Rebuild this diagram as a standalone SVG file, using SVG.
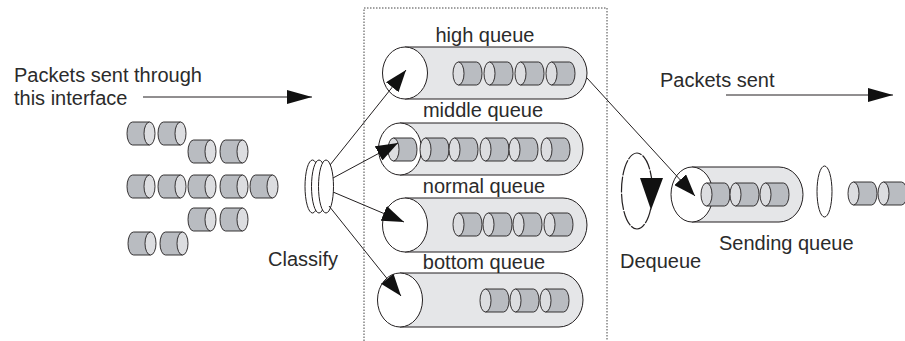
<svg xmlns="http://www.w3.org/2000/svg" width="905" height="341" viewBox="0 0 905 341">
<style>
text{font-family:"Liberation Sans",Arial,sans-serif;font-size:20px;fill:#2b2b2b}
.ln{stroke:#231f20;stroke-width:1;fill:none}
.tube{fill:#e5e6e8;stroke:#231f20;stroke-width:1}
.mouth{fill:#fff;stroke:#231f20;stroke-width:1}
.body{fill:#b9bcc1;stroke:#231f20;stroke-width:0.9}
.face{fill:#dcdde0;stroke:#231f20;stroke-width:0.9}
.disk{fill:#fff;stroke:#231f20;stroke-width:1}
</style>
<defs>
<marker id="ah" markerWidth="22" markerHeight="16" refX="22" refY="8" orient="auto" markerUnits="userSpaceOnUse"><path d="M0,0 L22,8 L0,16 Z" fill="#111"/></marker>
<marker id="ah2" markerWidth="25" markerHeight="14" refX="25" refY="7" orient="auto" markerUnits="userSpaceOnUse"><path d="M0,0 L25,7 L0,14 Z" fill="#111"/></marker>
<g id="pkL"><path class="body" d="M5.5,0 H23.5 A5.5,11.5 0 0 1 23.5,23 H5.5 Z"/><ellipse class="face" cx="5.5" cy="11.5" rx="5.5" ry="11.5"/></g>
<g id="pkR"><path class="body" d="M22.5,0 H5.5 A5.5,11.5 0 0 0 5.5,23 H22.5 Z"/><ellipse class="face" cx="22.5" cy="11.5" rx="5.5" ry="11.5"/></g>
</defs>

<g id="frame"><path d="M364,341 V8 H607 V341" fill="none" stroke="#444" stroke-width="1" stroke-dasharray="1.5 1.5"/></g>

<g id="input-label">
<text x="14" y="82">Packets sent through</text>
<text x="14" y="105">this interface</text>
</g>
<g id="output-label"><text x="660" y="87">Packets sent</text></g>

<g id="incoming-packets">
<use href="#pkR" x="127" y="122"/><use href="#pkR" x="158" y="122"/>
<use href="#pkR" x="188" y="140"/><use href="#pkR" x="220" y="140"/>
<use href="#pkR" x="127" y="175"/><use href="#pkR" x="158" y="175"/><use href="#pkR" x="188" y="175"/><use href="#pkR" x="220" y="175"/><use href="#pkR" x="250" y="175"/>
<use href="#pkR" x="188" y="208"/><use href="#pkR" x="220" y="208"/>
<use href="#pkR" x="128" y="232"/><use href="#pkR" x="160" y="232"/>
</g>

<g id="classify">
<ellipse class="disk" cx="312.5" cy="186.5" rx="7.5" ry="26.5"/>
<ellipse class="disk" cx="319" cy="186.5" rx="7.5" ry="26.5"/>
<ellipse class="disk" cx="326" cy="186.5" rx="7.5" ry="26.5"/>
<text x="268" y="266">Classify</text>
</g>

<g id="high-queue">
<text x="485" y="42" text-anchor="middle">high queue</text>
<path class="tube" d="M405,47 H563 A24,26 0 0 1 563,99 H405 Z"/>
<ellipse class="mouth" cx="405" cy="73" rx="22.5" ry="26"/>
<use href="#pkL" x="453" y="62"/><use href="#pkL" x="484" y="62"/><use href="#pkL" x="515" y="62"/><use href="#pkL" x="546" y="62"/>
</g>

<g id="middle-queue">
<text x="483" y="117" text-anchor="middle">middle queue</text>
<path class="tube" d="M400,123 H559 A24,26 0 0 1 559,175 H400 Z"/>
<ellipse class="mouth" cx="400" cy="149" rx="21.5" ry="26"/>
<use href="#pkL" x="388" y="138"/><use href="#pkL" x="420" y="138"/><use href="#pkL" x="449" y="138"/><use href="#pkL" x="480" y="138"/><use href="#pkL" x="509" y="138"/><use href="#pkL" x="541" y="138"/>
</g>

<g id="normal-queue">
<text x="484" y="193" text-anchor="middle">normal queue</text>
<path class="tube" d="M405,198 H563 A24,27 0 0 1 563,252 H405 Z"/>
<ellipse class="mouth" cx="405" cy="225" rx="22.5" ry="27"/>
<use href="#pkL" x="453" y="213"/><use href="#pkL" x="483" y="213"/><use href="#pkL" x="513" y="213"/><use href="#pkL" x="544" y="213"/>
</g>

<g id="bottom-queue">
<text x="484" y="269" text-anchor="middle">bottom queue</text>
<path class="tube" d="M400,273 H559 A24,27 0 0 1 559,327 H400 Z"/>
<ellipse class="mouth" cx="400" cy="300" rx="22.5" ry="27"/>
<use href="#pkL" x="480" y="289"/><use href="#pkL" x="510" y="289"/><use href="#pkL" x="540" y="289"/>
</g>

<g id="dequeue">
<ellipse cx="637" cy="191" rx="15.5" ry="38" fill="none" stroke="#231f20" stroke-width="1.2" stroke-dasharray="16 1.2"/>
<path d="M640,178 L663,178 L651,210 Z" fill="#111"/>
<text x="620" y="268">Dequeue</text>
</g>

<g id="sending-queue">
<path class="tube" d="M692,167 H779 A24,27.5 0 0 1 779,222 H692 Z"/>
<ellipse class="mouth" cx="692" cy="194.5" rx="21" ry="27.5"/>
<use href="#pkL" x="701" y="183"/><use href="#pkL" x="730" y="183"/><use href="#pkL" x="760" y="183"/>
<text x="719" y="250">Sending queue</text>
</g>

<g id="interface-disk"><ellipse class="disk" cx="824.5" cy="191.5" rx="7.5" ry="25.5"/></g>

<g id="sent-packets">
<use href="#pkL" x="848" y="182"/><use href="#pkL" x="878" y="182"/>
</g>

<g id="connectors">
<line class="ln" x1="143" y1="97" x2="312" y2="97" marker-end="url(#ah2)"/>
<line class="ln" x1="726" y1="95" x2="893" y2="95" marker-end="url(#ah2)"/>
<line class="ln" x1="330" y1="165" x2="406" y2="70" marker-end="url(#ah)"/>
<line class="ln" x1="333" y1="178" x2="398" y2="143" marker-end="url(#ah)"/>
<line class="ln" x1="333" y1="192" x2="404" y2="222" marker-end="url(#ah)"/>
<line class="ln" x1="329" y1="206" x2="401" y2="296" marker-end="url(#ah)"/>
<line class="ln" x1="587" y1="78" x2="695" y2="196" marker-end="url(#ah)"/>
</g>
</svg>
